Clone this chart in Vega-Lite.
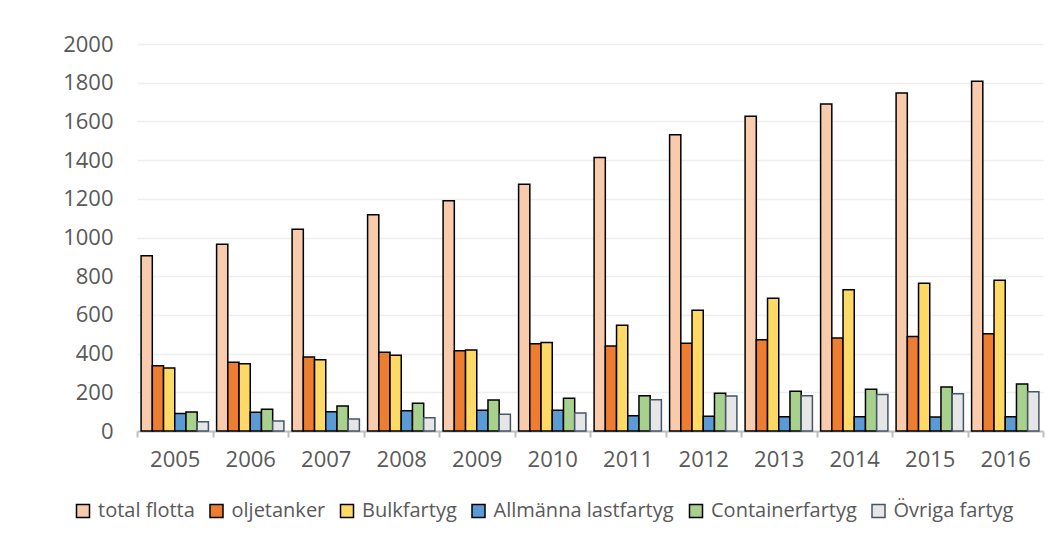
{
  "$schema": "https://vega.github.io/schema/vega-lite/v6.json",
  "autosize": {"type": "none"},
  "width": 906,
  "height": 387,
  "padding": {"left": 137, "top": 44, "right": 11, "bottom": 112},
  "background": "white",
  "config": {
    "view": {"stroke": null},
    "font": "Open Sans",
    "axis": {"labelFont": "Open Sans", "labelColor": "#595959"},
    "legend": {"labelFont": "Open Sans"}
  },
  "data": {
    "values": [
      {"year": "2005", "series": "total flotta", "value": 906},
      {"year": "2005", "series": "oljetanker", "value": 337},
      {"year": "2005", "series": "Bulkfartyg", "value": 326},
      {"year": "2005", "series": "Allmänna lastfartyg", "value": 91},
      {"year": "2005", "series": "Containerfartyg", "value": 98},
      {"year": "2005", "series": "Övriga fartyg", "value": 48},
      {"year": "2006", "series": "total flotta", "value": 965},
      {"year": "2006", "series": "oljetanker", "value": 355},
      {"year": "2006", "series": "Bulkfartyg", "value": 348},
      {"year": "2006", "series": "Allmänna lastfartyg", "value": 97},
      {"year": "2006", "series": "Containerfartyg", "value": 112},
      {"year": "2006", "series": "Övriga fartyg", "value": 52},
      {"year": "2007", "series": "total flotta", "value": 1042},
      {"year": "2007", "series": "oljetanker", "value": 382},
      {"year": "2007", "series": "Bulkfartyg", "value": 368},
      {"year": "2007", "series": "Allmänna lastfartyg", "value": 100},
      {"year": "2007", "series": "Containerfartyg", "value": 129},
      {"year": "2007", "series": "Övriga fartyg", "value": 62},
      {"year": "2008", "series": "total flotta", "value": 1118},
      {"year": "2008", "series": "oljetanker", "value": 407},
      {"year": "2008", "series": "Bulkfartyg", "value": 391},
      {"year": "2008", "series": "Allmänna lastfartyg", "value": 105},
      {"year": "2008", "series": "Containerfartyg", "value": 143},
      {"year": "2008", "series": "Övriga fartyg", "value": 69},
      {"year": "2009", "series": "total flotta", "value": 1190},
      {"year": "2009", "series": "oljetanker", "value": 415},
      {"year": "2009", "series": "Bulkfartyg", "value": 419},
      {"year": "2009", "series": "Allmänna lastfartyg", "value": 107},
      {"year": "2009", "series": "Containerfartyg", "value": 160},
      {"year": "2009", "series": "Övriga fartyg", "value": 86},
      {"year": "2010", "series": "total flotta", "value": 1275},
      {"year": "2010", "series": "oljetanker", "value": 451},
      {"year": "2010", "series": "Bulkfartyg", "value": 458},
      {"year": "2010", "series": "Allmänna lastfartyg", "value": 107},
      {"year": "2010", "series": "Containerfartyg", "value": 169},
      {"year": "2010", "series": "Övriga fartyg", "value": 93},
      {"year": "2011", "series": "total flotta", "value": 1414},
      {"year": "2011", "series": "oljetanker", "value": 439},
      {"year": "2011", "series": "Bulkfartyg", "value": 546},
      {"year": "2011", "series": "Allmänna lastfartyg", "value": 79},
      {"year": "2011", "series": "Containerfartyg", "value": 182},
      {"year": "2011", "series": "Övriga fartyg", "value": 162},
      {"year": "2012", "series": "total flotta", "value": 1531},
      {"year": "2012", "series": "oljetanker", "value": 453},
      {"year": "2012", "series": "Bulkfartyg", "value": 624},
      {"year": "2012", "series": "Allmänna lastfartyg", "value": 76},
      {"year": "2012", "series": "Containerfartyg", "value": 195},
      {"year": "2012", "series": "Övriga fartyg", "value": 181},
      {"year": "2013", "series": "total flotta", "value": 1626},
      {"year": "2013", "series": "oljetanker", "value": 472},
      {"year": "2013", "series": "Bulkfartyg", "value": 686},
      {"year": "2013", "series": "Allmänna lastfartyg", "value": 74},
      {"year": "2013", "series": "Containerfartyg", "value": 205},
      {"year": "2013", "series": "Övriga fartyg", "value": 182},
      {"year": "2014", "series": "total flotta", "value": 1690},
      {"year": "2014", "series": "oljetanker", "value": 481},
      {"year": "2014", "series": "Bulkfartyg", "value": 730},
      {"year": "2014", "series": "Allmänna lastfartyg", "value": 74},
      {"year": "2014", "series": "Containerfartyg", "value": 216},
      {"year": "2014", "series": "Övriga fartyg", "value": 188},
      {"year": "2015", "series": "total flotta", "value": 1747},
      {"year": "2015", "series": "oljetanker", "value": 489},
      {"year": "2015", "series": "Bulkfartyg", "value": 763},
      {"year": "2015", "series": "Allmänna lastfartyg", "value": 72},
      {"year": "2015", "series": "Containerfartyg", "value": 227},
      {"year": "2015", "series": "Övriga fartyg", "value": 193},
      {"year": "2016", "series": "total flotta", "value": 1807},
      {"year": "2016", "series": "oljetanker", "value": 503},
      {"year": "2016", "series": "Bulkfartyg", "value": 779},
      {"year": "2016", "series": "Allmänna lastfartyg", "value": 74},
      {"year": "2016", "series": "Containerfartyg", "value": 243},
      {"year": "2016", "series": "Övriga fartyg", "value": 203}
    ]
  },
  "mark": {"type": "bar", "strokeWidth": 1.5},
  "encoding": {
    "x": {
      "field": "year",
      "type": "nominal",
      "scale": {"paddingInner": 0, "paddingOuter": 0},
      "axis": {
        "title": null,
        "labelAngle": 0,
        "labelFontSize": 22,
        "labelPadding": 12,
        "domainColor": "#bfbfbf",
        "domainWidth": 2,
        "tickColor": "#bfbfbf",
        "tickWidth": 2,
        "tickSize": 6,
        "tickBand": "extent",
        "grid": false
      }
    },
    "xOffset": {
      "field": "series",
      "type": "nominal",
      "sort": ["total flotta", "oljetanker", "Bulkfartyg", "Allmänna lastfartyg", "Containerfartyg", "Övriga fartyg"],
      "scale": {"paddingOuter": 0.365, "paddingInner": 0}
    },
    "y": {
      "field": "value",
      "type": "quantitative",
      "scale": {"domain": [0, 2000], "nice": false},
      "axis": {
        "title": null,
        "format": "d",
        "values": [0, 200, 400, 600, 800, 1000, 1200, 1400, 1600, 1800, 2000],
        "domain": false,
        "ticks": false,
        "labelFontSize": 22,
        "labelPadding": 24,
        "gridColor": "#eeeeee",
        "gridWidth": 1.5
      }
    },
    "color": {
      "field": "series",
      "type": "nominal",
      "sort": ["total flotta", "oljetanker", "Bulkfartyg", "Allmänna lastfartyg", "Containerfartyg", "Övriga fartyg"],
      "scale": {
        "domain": ["total flotta", "oljetanker", "Bulkfartyg", "Allmänna lastfartyg", "Containerfartyg", "Övriga fartyg"],
        "range": ["#F8CBAD", "#ED7D31", "#FFD966", "#5B9BD5", "#A9D18E", "#E7E6E6"]
      },
      "legend": {
        "title": null,
        "orient": "none",
        "direction": "horizontal",
        "legendX": -64,
        "legendY": 457,
        "symbolType": "square",
        "symbolSize": 169,
        "symbolStrokeWidth": 1.5,
        "symbolOpacity": 1,
        "labelFontSize": 20,
        "labelColor": "#595959",
        "labelOffset": 5,
        "columnPadding": 11.5,
        "padding": 0,
        "labelLimit": 400
      }
    },
    "stroke": {
      "field": "series",
      "type": "nominal",
      "sort": ["total flotta", "oljetanker", "Bulkfartyg", "Allmänna lastfartyg", "Containerfartyg", "Övriga fartyg"],
      "scale": {
        "domain": ["total flotta", "oljetanker", "Bulkfartyg", "Allmänna lastfartyg", "Containerfartyg", "Övriga fartyg"],
        "range": ["#000000", "#000000", "#000000", "#000000", "#000000", "#44546A"]
      },
      "legend": {
        "title": null,
        "orient": "none",
        "direction": "horizontal",
        "legendX": -64,
        "legendY": 457,
        "symbolType": "square",
        "symbolSize": 169,
        "symbolStrokeWidth": 1.5,
        "symbolOpacity": 1,
        "labelFontSize": 20,
        "labelColor": "#595959",
        "labelOffset": 5,
        "columnPadding": 11.5,
        "padding": 0,
        "labelLimit": 400
      }
    }
  }
}
